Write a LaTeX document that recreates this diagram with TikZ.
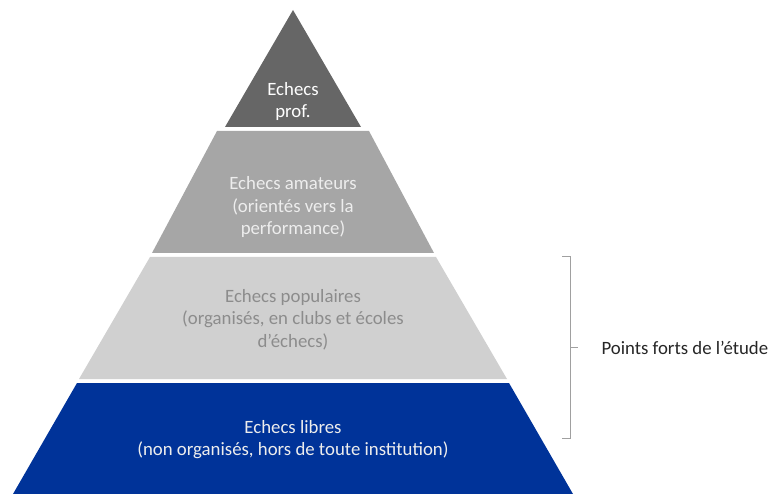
\documentclass[tikz,border=0pt]{standalone}
\usepackage{fontspec}
\setmainfont{Carlito}
\usepackage{xcolor}
\definecolor{profgray}{HTML}{666666}
\definecolor{amagray}{HTML}{A6A6A6}
\definecolor{popgray}{HTML}{D0D0D0}
\definecolor{librblue}{HTML}{003399}
\definecolor{poptext}{HTML}{8C8C8C}
\definecolor{bracketgray}{HTML}{A0A0A0}
\tikzset{lbl/.style={align=center,font=\fontsize{18.8}{22.5}\selectfont}}
\begin{document}
\begin{tikzpicture}[x=1pt,y=-1pt]
        \useasboundingbox (0,0) rectangle (774,494);
        \fill[profgray] (293,10) -- (361,127) -- (225,127) -- cycle;
        \fill[amagray] (217,131) -- (369,131) -- (434,253) -- (152,253) -- cycle;
        \fill[popgray] (150,257) -- (436,257) -- (507,379) -- (79,379) -- cycle;
        \fill[librblue] (77,383) -- (509,383) -- (573,494) -- (13,494) -- cycle;
        \node[lbl,text=white](prof) at (293,101.5) {Echecs\\prof.};
        \node[lbl,text=white!93!black](amat) at (293,207) {Echecs amateurs\\(orientés vers la\\performance)};
        \node[lbl,text=poptext](popu) at (293,319.5) {Echecs populaires\\(organisés, en clubs et écoles\\d’échecs)};
        \node[lbl,text=white!93!black](libr) at (293,439.5) {Echecs libres\\(non organisés, hors de toute institution)};
        \coordinate(bt) at (570,257);
        \coordinate(bb) at (570,438);
        \coordinate(bm) at (570,347.5);
        \node[lbl,anchor=west,text=black!85](fort) at (598,347.5) {Points forts de l’étude};
        \draw[bracketgray,line width=1pt] ([xshift=-8pt]bt) -- (bt) -- (bb) -- ([xshift=-8pt]bb);
        \draw[bracketgray,line width=1pt] (bm) -- ([xshift=8pt]bm);
        \end{tikzpicture}
\end{document}
